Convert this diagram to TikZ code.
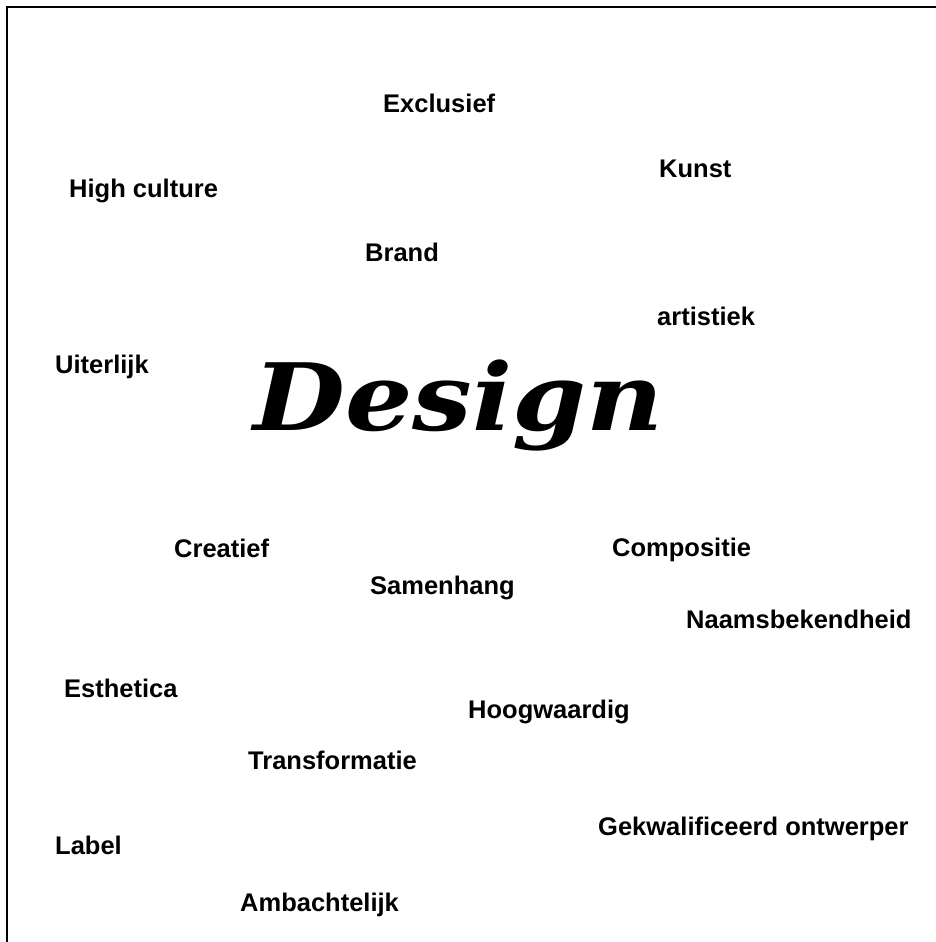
\documentclass[tikz,border=0pt]{standalone}
\usepackage{fontspec}
\setmainfont{Liberation Sans}
\newfontfamily\designfont{DejaVu Serif}
\tikzset{
  word/.style={font=\fontsize{25.5}{28}\selectfont\bfseries, inner sep=0pt, anchor=base west},
  title/.style={font=\fontsize{100}{110}\selectfont\designfont\bfseries\itshape, inner sep=0pt, anchor=base west}
}

\begin{document}
\begin{tikzpicture}[x=1pt,y=-1pt]
  \useasboundingbox (0,0) rectangle (936,942);
  \draw[line width=2.5pt] (7,942) -- (7,7) -- (936,7);
  \node at (253,430) (design) [title] {\scalebox{1.06}[0.93]{Design}};
  \node at (383,112) (exclusief) [word] {Exclusief};
  \node at (659,177) (kunst) [word] {Kunst};
  \node at (69,197) (highculture) [word] {High culture};
  \node at (365,261) (brand) [word] {Brand};
  \node at (657,325) (artistiek) [word] {artistiek};
  \node at (55,373) (uiterlijk) [word] {Uiterlijk};
  \node at (174,557) (creatief) [word] {Creatief};
  \node at (612,556) (compositie) [word] {Compositie};
  \node at (370,594) (samenhang) [word] {Samenhang};
  \node at (686,628) (naamsbekendheid) [word] {Naamsbekendheid};
  \node at (64,697) (esthetica) [word] {Esthetica};
  \node at (468,718) (hoogwaardig) [word] {Hoogwaardig};
  \node at (248,769) (transformatie) [word] {Transformatie};
  \node at (598,835) (gekwalificeerd) [word] {Gekwalificeerd ontwerper};
  \node at (55,854) (label) [word] {Label};
  \node at (240,911) (ambachtelijk) [word] {Ambachtelijk};
\end{tikzpicture}
\end{document}
